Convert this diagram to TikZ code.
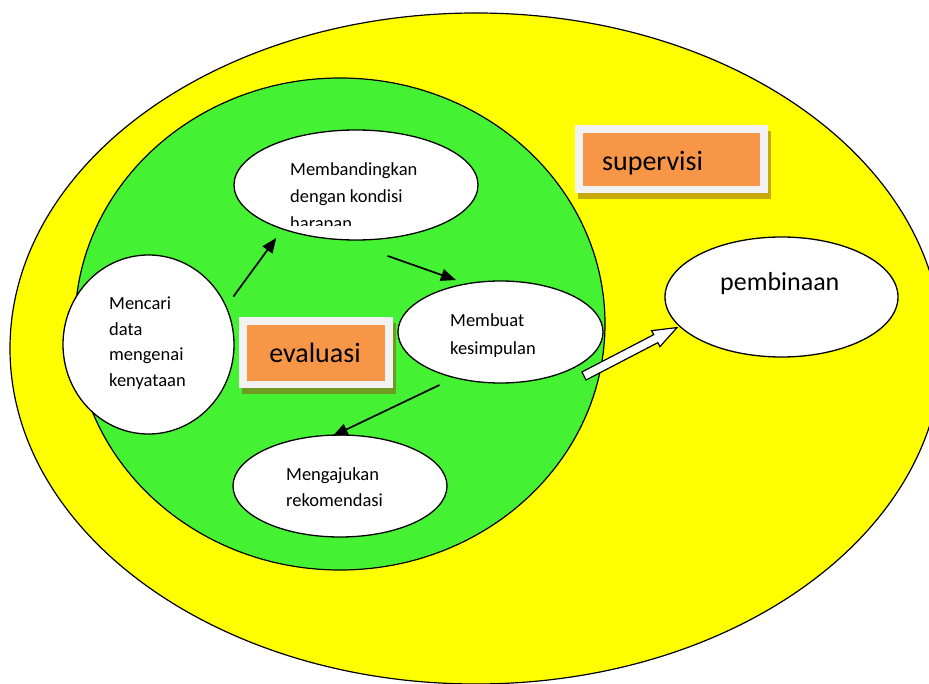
\documentclass[tikz,border=0pt]{standalone}
\usepackage{fontspec}
\setmainfont{Carlito}
\usetikzlibrary{shapes.geometric,arrows.meta,calc,shadows}
\definecolor{yel}{HTML}{FFFF00}
\definecolor{grn}{HTML}{45F233}
\definecolor{org}{HTML}{F79646}
\definecolor{boxw}{HTML}{F2F2F2}
\definecolor{shadg}{HTML}{6F9B22}
\definecolor{shady}{HTML}{C8A90C}
\begin{document}
\begin{tikzpicture}[x=1pt,y=-1pt,
  bubble/.style={ellipse, draw, fill=white, line width=1.3pt, inner sep=0pt, outer sep=0pt},
  txt/.style={font=\fontsize{18.5}{27}\selectfont, anchor=base west, inner sep=0pt},
  bigtxt/.style={font=\fontsize{28}{30}\selectfont, anchor=base, inner sep=0pt},
  flow/.style={line width=1.7pt, -{Triangle[length=15pt,width=12pt]}},
  outerbox/.style={fill=boxw, inner sep=0pt},
  innerbox/.style={fill=org, inner sep=0pt}]
\useasboundingbox (0,0) rectangle (929,684);
\begin{scope}
\clip (0,0) rectangle (929,684);
\node[ellipse, draw, fill=yel, line width=1.2pt, inner sep=0pt, minimum width=932pt, minimum height=671pt] (sup) at (476,348.5) {};
\end{scope}
\node[ellipse, draw, fill=grn, line width=1.2pt, inner sep=0pt, minimum width=530pt, minimum height=492pt] (eva) at (340,324) {};

% label boxes
\node[outerbox, minimum width=154pt, minimum height=71pt, drop shadow={shadow xshift=3pt, shadow yshift=-6pt, fill=shadg, opacity=1}] (evb) at (316,352.5) {};
\node[innerbox, minimum width=138pt, minimum height=56pt] (evi) at (316,353) {};
\node[bigtxt] (evt) at (315,363) {evaluasi};

\node[outerbox, minimum width=193pt, minimum height=68pt, drop shadow={shadow xshift=3pt, shadow yshift=-6pt, fill=shady, opacity=1}] (svb) at (671.5,159) {};
\node[innerbox, minimum width=177pt, minimum height=53pt] (svi) at (671.5,159.5) {};
\node[bigtxt, anchor=base west] (svt) at (602,171) {supervisi};

% bubbles
\node[bubble, minimum width=244pt, minimum height=110pt] (mem) at (356,185) {};
\node[bubble, minimum width=171pt, minimum height=179pt] (cari) at (148.5,344.5) {};
\node[bubble, minimum width=205pt, minimum height=102pt] (buat) at (500.5,332) {};
\node[bubble, minimum width=214pt, minimum height=102pt] (aju) at (340,486) {};
\node[bubble, minimum width=233pt, minimum height=120pt] (bina) at (781.5,297) {};

% texts
\node[txt] (m1) at (290,176) {Membandingkan};
\node[txt] (m2) at (290,203) {dengan kondisi};
\begin{scope}
\clip (200,150) rectangle (500,226);
\node[txt] (m3) at (290,230) {harapan};
\end{scope}
\node[txt] (c1) at (109,310) {Mencari};
\node[txt] (c2) at (109,335.5) {data};
\node[txt] (c3) at (109,361) {mengenai};
\node[txt] (c4) at (109,386.5) {kenyataan};
\node[txt] (b1) at (450,327) {Membuat};
\node[txt] (b2) at (450,355) {kesimpulan};
\node[txt] (a1) at (286,480) {Mengajukan};
\node[txt] (a2) at (286,506) {rekomendasi};
\node[bigtxt, font=\fontsize{26}{30}\selectfont, anchor=base west] (pt) at (720,291) {pembinaan};

% connectors
\draw[flow, shorten <=12.5pt, shorten >=11pt] (cari.26) -- (mem.211);
\draw[flow, shorten <=49pt, shorten >=11.5pt] (mem.255) -- (buat.125);
\draw[flow, shorten <=17pt, shorten >=-2pt] (buat.225) -- (aju.96);

% hollow block arrow
\coordinate (ha) at ($(buat.center)+(83.5,44)$);
\coordinate (hb) at ($(bina.196)!3pt!(ha)$);
\coordinate (hc) at ($(hb)!24pt!(ha)$);
\draw[fill=white, line width=1.2pt, line join=miter]
  ($(ha)!4.5pt!90:(hb)$) -- ($(hc)!4.5pt!90:(hb)$) -- ($(hc)!9pt!90:(hb)$)
  -- (hb) -- ($(hc)!9pt!-90:(hb)$) -- ($(hc)!4.5pt!-90:(hb)$)
  -- ($(ha)!4.5pt!-90:(hb)$) -- cycle;
\end{tikzpicture}
\end{document}
